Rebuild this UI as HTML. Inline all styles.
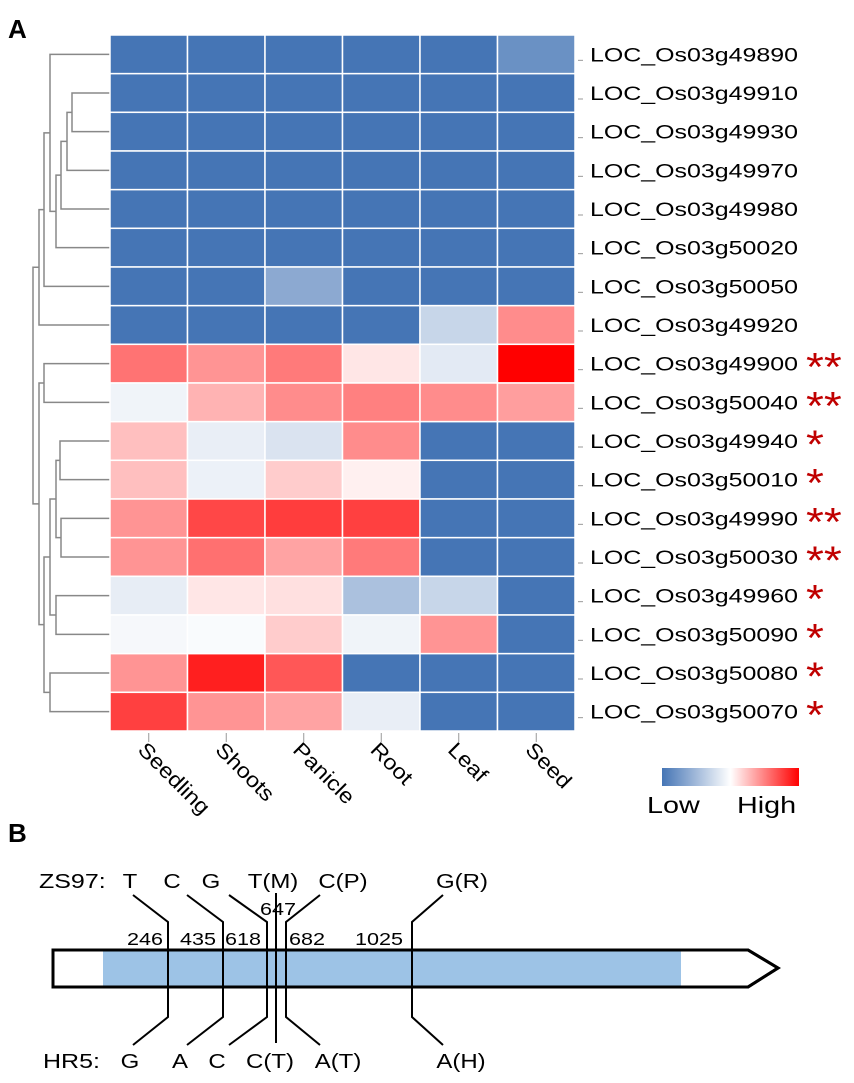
<!DOCTYPE html>
<html><head><meta charset="utf-8"><style>
html,body{margin:0;padding:0;background:#fff;}
svg{display:block;font-family:"Liberation Sans",Arial,sans-serif;}
</style></head><body>
<svg id="fig" width="854" height="1083" viewBox="0 0 854 1083" xmlns="http://www.w3.org/2000/svg">
<defs><linearGradient id="lg" x1="0" x2="1" y1="0" y2="0">
<stop offset="0" stop-color="#4575b5"/><stop offset="0.5" stop-color="#ffffff"/><stop offset="1" stop-color="#ff0000"/></linearGradient></defs>
<text x="8" y="38" font-size="26" font-weight="bold">A</text>
<text x="8" y="842" font-size="26" font-weight="bold">B</text>
<g id="dendro"></g>
<g id="heat"></g>
<g id="rowlabels"></g>
<g id="collabels"></g>
<g>
<rect x="662" y="768" width="137" height="18" fill="url(#lg)"/>
<text transform="translate(647,813) scale(1.25,1)" font-size="23">Low</text>
<text transform="translate(737,813) scale(1.25,1)" font-size="23">High</text>
</g>
<g id="partb">
<polygon points="53,950 748,950 778,968 748,987 53,987" fill="#fff" stroke="#000" stroke-width="3"/>
<rect x="103" y="951.5" width="578" height="34" fill="#9dc3e6"/>
<polygon points="53,950 748,950 778,968 748,987 53,987" fill="none" stroke="#000" stroke-width="3"/>
<text transform="translate(39,888) scale(1.25,1)" font-size="20">ZS97:</text>
<text transform="translate(43,1068) scale(1.25,1)" font-size="20">HR5:</text>
</g>
</svg>
<script>
const NS="http://www.w3.org/2000/svg";
const genes=["LOC_Os03g49890","LOC_Os03g49910","LOC_Os03g49930","LOC_Os03g49970","LOC_Os03g49980","LOC_Os03g50020","LOC_Os03g50050","LOC_Os03g49920","LOC_Os03g49900","LOC_Os03g50040","LOC_Os03g49940","LOC_Os03g50010","LOC_Os03g49990","LOC_Os03g50030","LOC_Os03g49960","LOC_Os03g50090","LOC_Os03g50080","LOC_Os03g50070"];
const tissues=["Seedling","Shoots","Panicle","Root","Leaf","Seed"];
const stars=["","","","","","","","","**","**","*","*","**","**","*","*","*","*"];
const values=[
[-1,-1,-1,-1,-1,-0.8],
[-1,-1,-1,-1,-1,-1],
[-1,-1,-1,-1,-1,-1],
[-1,-1,-1,-1,-1,-1],
[-1,-1,-1,-1,-1,-1],
[-1,-1,-1,-1,-1,-1],
[-1,-1,-0.62,-1,-1,-1],
[-1,-1,-1,-1,-0.3,0.45],
[0.55,0.42,0.52,0.1,-0.15,1],
[-0.08,0.3,0.45,0.5,0.45,0.38],
[0.25,-0.12,-0.2,0.45,-1,-1],
[0.25,-0.1,0.2,0.06,-1,-1],
[0.42,0.72,0.76,0.75,-1,-1],
[0.42,0.56,0.36,0.52,-1,-1],
[-0.13,0.1,0.12,-0.45,-0.3,-1],
[-0.05,-0.03,0.2,-0.08,0.42,-1],
[0.42,0.88,0.66,-1,-1,-1],
[0.75,0.42,0.36,-0.12,-1,-1]];
const merges=[[1,2,72],[18,3,67],[19,4,61],[20,5,56],[0,21,50],[22,6,44],[23,7,39],[8,9,44],[10,11,60],[12,13,61],[26,27,56],[14,15,56],[28,29,50],[16,17,50],[30,31,44],[25,32,39],[24,33,33]];
const hx0=110,hx1=575,hy0=35,hy1=731;
const cw=(hx1-hx0)/tissues.length, rh=(hy1-hy0)/genes.length;
const colX=i=>hx0+i*cw, rowY=i=>hy0+i*rh;
function col(v){const b=[69,117,181],w=[255,255,255],r=[255,0,0];let a,c,t;
 if(v<0){a=w;c=b;t=-v;}else{a=w;c=r;t=v;}
 return "rgb("+a.map((x,k)=>Math.round(x+(c[k]-x)*t)).join(",")+")";}
function mk(tag,attrs,parent,txt){const e=document.createElementNS(NS,tag);for(const k in attrs)e.setAttribute(k,attrs[k]);if(txt!=null)e.textContent=txt;parent.appendChild(e);return e;}
const heat=document.getElementById("heat");
values.forEach((row,i)=>row.forEach((v,j)=>{
 const r=mk("rect",{x:colX(j),y:rowY(i),width:cw,height:rh,fill:col(v),stroke:"#fff","stroke-width":1.5},heat);
 
 
}));
const rl=document.getElementById("rowlabels");
genes.forEach((g,i)=>{
 const cy=rowY(i)+rh/2;
 mk("line",{x1:hx1+3,x2:hx1+8,y1:cy+6,y2:cy+6,stroke:"#999","stroke-width":1},rl);
 const t=mk("text",{transform:"translate(590,"+(cy+7)+") scale(1.28,1)","font-size":19.5},rl,g);
 
 
 if(stars[i]){const s=mk("text",{transform:"translate(806,"+(cy+17)+") scale(1.15,1)","font-size":40,fill:"#c00000"},rl,stars[i]);
 
 }
});
const cl=document.getElementById("collabels");
tissues.forEach((t,j)=>{
 const cx=colX(j)+cw/2;
 mk("line",{x1:cx,x2:cx,y1:hy1+2,y2:hy1+11,stroke:"#999","stroke-width":1},cl);
 const e=mk("text",{x:0,y:0,"font-size":21,transform:"translate("+(cx-12)+","+(hy1+20)+") rotate(45) scale(1.12,1)"},cl,t);
 
 
});
const dg=document.getElementById("dendro");
const ny={}, nx={};
genes.forEach((g,i)=>{ny[i]=rowY(i)+rh/2;nx[i]=hx0;});
merges.forEach((m,k)=>{
 const id=genes.length+k,[a,b,h]=m;
 ny[id]=(ny[a]+ny[b])/2;nx[id]=h;
 const p=mk("path",{d:"M"+nx[a]+","+ny[a]+"H"+h+"V"+ny[b]+"H"+nx[b],fill:"none",stroke:"#888","stroke-width":1.5},dg);
 
 
});
const snpPos=["246","435","618","647","682","1025"];
const snpX=[168,223,267,276,286,412];
const zsAllele=["T","C","G","T(M)","C(P)","G(R)"];
const hrAllele=["G","A","C","C(T)","A(T)","A(H)"];
const topEnd=[133,187,229,276,320,443];
const zsX=[130,172,211,273,343,462], hrX=[130,180,217,270,338,461];
const numX=[145,198,243,278,307,379];
const pb=document.getElementById("partb");
snpX.forEach((x,i)=>{
 let d;
 if(i===3) d="M"+x+",893V1043";
 else d="M"+topEnd[i]+",895L"+x+",922V1017L"+topEnd[i]+",1045";
 const p=mk("path",{d:d,fill:"none",stroke:"#000","stroke-width":2},pb);
 
 
 const n=mk("text",{transform:"translate("+numX[i]+","+(i===3?915:945)+") scale(1.2,1)","font-size":18,"text-anchor":"middle"},pb,snpPos[i]);
 
 
 const z=mk("text",{transform:"translate("+zsX[i]+",888) scale(1.2,1)","font-size":20,"text-anchor":"middle"},pb,zsAllele[i]);
 
 
 const h=mk("text",{transform:"translate("+hrX[i]+",1068) scale(1.2,1)","font-size":20,"text-anchor":"middle"},pb,hrAllele[i]);
 
 
});
</script>
</body></html>
